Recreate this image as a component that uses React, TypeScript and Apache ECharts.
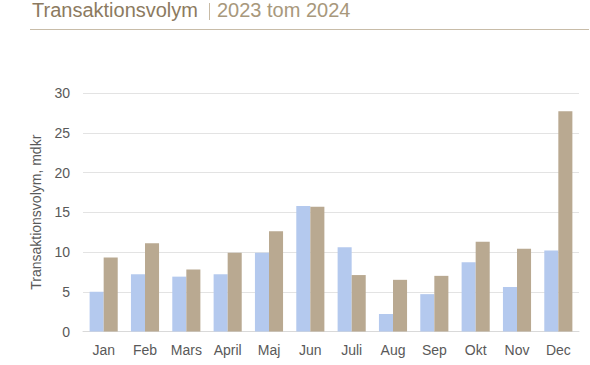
import React, { useEffect, useRef } from "react";
import * as echarts from "echarts";

const months = ["Jan", "Feb", "Mars", "April", "Maj", "Jun", "Juli", "Aug", "Sep", "Okt", "Nov", "Dec"];
const vol2023 = [5.0, 7.2, 6.9, 7.2, 9.9, 15.8, 10.6, 2.2, 4.7, 8.7, 5.6, 10.2];
const vol2024 = [9.3, 11.1, 7.8, 9.9, 12.6, 15.7, 7.1, 6.5, 7.0, 11.3, 10.4, 27.7];
const seriesNames = ["Transaktionsvolym 2023", "Transaktionsvolym 2024"];

export default function App() {
  const ref = useRef<HTMLDivElement>(null);
  useEffect(() => {
    if (!ref.current) return;
    const chart = echarts.init(ref.current, undefined, { renderer: "svg" });
    const font = "Liberation Sans, Arial, sans-serif";
    chart.setOption({
      animation: false,
      textStyle: { fontFamily: font },
      graphic: [
        {
          type: "text",
          left: 32,
          top: 0,
          style: { text: "Transaktionsvolym", fill: "#8c7a60", font: `20px ${font}` },
        },
        {
          type: "line",
          shape: { x1: 209.5, y1: 3, x2: 209.5, y2: 20 },
          style: { stroke: "#c8bba6", lineWidth: 1 },
        },
        {
          type: "text",
          left: 217,
          top: 0,
          style: { text: "2023 tom 2024", fill: "#a8987c", font: `20px ${font}` },
        },
        {
          type: "line",
          shape: { x1: 30, y1: 29.5, x2: 589, y2: 29.5 },
          style: { stroke: "#c8bca8", lineWidth: 1 },
        },
      ],
      grid: { left: 83, right: 11, top: 93, bottom: 33.5 },
      legend: {
        data: seriesNames,
        top: 361,
        left: 132,
        itemGap: 40,
        itemWidth: 9,
        itemHeight: 9,
        icon: "rect",
        textStyle: { fontSize: 14, color: "#595959", fontFamily: font },
      },
      xAxis: {
        type: "category",
        data: months,
        axisLine: { lineStyle: { color: "#d9d9d9" } },
        axisTick: { show: false },
        axisLabel: { color: "#595959", fontSize: 14, fontFamily: font, margin: 11, interval: 0 },
      },
      yAxis: {
        type: "value",
        min: 0,
        max: 30,
        interval: 5,
        name: "Transaktionsvolym, mdkr",
        nameLocation: "middle",
        nameGap: 40,
        nameTextStyle: { color: "#595959", fontSize: 14, fontFamily: font },
        axisLine: { show: false },
        axisTick: { show: false },
        axisLabel: { color: "#595959", fontSize: 14, fontFamily: font, margin: 13 },
        splitLine: { lineStyle: { color: "#e3e3e3" } },
      },
      series: [
        {
          name: seriesNames[0],
          type: "bar",
          data: vol2023,
          barGap: "0%",
          barCategoryGap: "32%",
          itemStyle: { color: "#b4c9ee" },
        },
        {
          name: seriesNames[1],
          type: "bar",
          data: vol2024,
          barGap: "0%",
          barCategoryGap: "32%",
          itemStyle: { color: "#b9a991" },
        },
      ],
    });
    return () => chart.dispose();
  }, []);
  return <div ref={ref} style={{ width: 590, height: 365, position: "absolute", left: 0, top: 0 }} />;
}
